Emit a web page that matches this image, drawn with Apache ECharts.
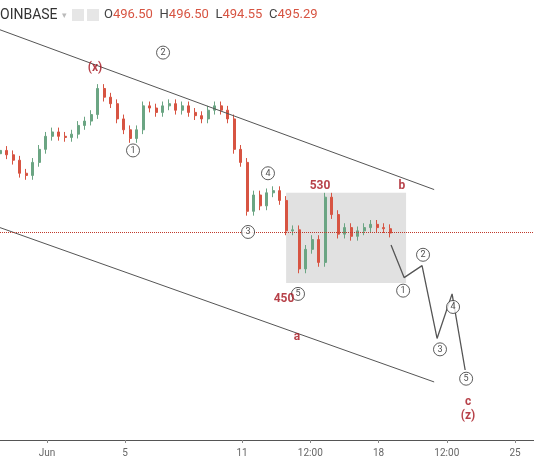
<!DOCTYPE html>
<html><head><meta charset="utf-8">
<script src="https://cdn.jsdelivr.net/npm/echarts@6/dist/echarts.min.js"></script>
<style>html,body{margin:0;padding:0;background:#fff}#c{width:534px;height:462px}</style>
</head><body><div id="c"></div>
<script>
// 8h candles, closes
const startDay = -1.41
const step = 1 / 3
const closes = [571, 567, 562, 550, 548, 560, 572, 584, 588, 584, 583, 586, 594, 598, 604, 628, 620, 614, 600, 590,
  582, 590, 612, 610, 606, 612, 614, 608, 612, 606, 603, 600, 608, 612, 608, 600, 572, 560, 515, 530,
  520, 532, 534, 525, 497, 498, 462, 480, 489, 468, 528, 512, 494, 500, 492, 497, 500, 503, 500, 499, 495]
const firstOpen = 568
const wick = 4

const upperTrend = [[-1.41, 682], [20.85, 535]]
const lowerTrend = [[-1.41, 500], [20.85, 358]]
const boxB = [[13.26, 532], [19.41, 449]]
const projection = [[18.64, 484], [19.31, 454], [20.23, 465], [21.0, 398], [21.77, 439], [22.44, 369]]
const waveCircles = [['1', 5.41, 571], ['2', 6.95, 661], ['3', 11.31, 496], ['4', 12.33, 550], ['5', 13.87, 439],
  ['1', 19.26, 442], ['2', 20.28, 475], ['3', 21.15, 388], ['4', 21.82, 427], ['5', 22.49, 361]]
const redLabels = [['(x)', 3.46, 647], ['530', 15.0, 538], ['b', 19.2, 538], ['450', 13.15, 434], ['a', 13.82, 399],
  ['c', 22.59, 340], ['(z)', 22.59, 327]]
const lastPrice = 495.29
const tickDays = [1, 5, 11, 14.5, 18, 21.5, 25]
const tickLabels = ['Jun', '5', '11', '12:00', '18', '12:00', '25']

const candles = closes.map((c, i) => {
  const o = i === 0 ? firstOpen : closes[i - 1]
  return [startDay + i * step, o, c, Math.min(o, c) - wick, Math.max(o, c) + wick]
})

const chart = echarts.init(document.getElementById('c'))
const red = '#a5121b'
chart.setOption({
  animation: false,
  grid: { left: 0, right: 0, top: 0, bottom: 22 },
  xAxis: {
    type: 'value', min: -1.41, max: 25.97,
    splitLine: { show: false },
    axisLine: { lineStyle: { color: '#555' } },
    axisTick: { customValues: tickDays, lineStyle: { color: '#888' }, length: 3 },
    axisLabel: {
      customValues: tickDays, color: '#666', fontSize: 10, fontFamily: 'Roboto',
      formatter: v => tickLabels[tickDays.indexOf(v)]
    }
  },
  yAxis: { type: 'value', min: 304.6, max: 709.4, show: false, splitLine: { show: false } },
  series: [
    {
      type: 'candlestick', data: candles, encode: { x: 0, y: [1, 2, 3, 4] }, barWidth: 2.5,
      itemStyle: { color: '#6ba583', color0: '#d75442', borderColor: '#6ba583', borderColor0: '#d75442' },
      markArea: { silent: true, itemStyle: { color: 'rgba(200,200,200,0.55)' },
        data: [[{ coord: boxB[0] }, { coord: boxB[1] }]] },
      markLine: { silent: true, symbol: 'none', label: { show: false },
        lineStyle: { color: '#c0392b', type: 'dotted', width: 1 }, data: [{ yAxis: lastPrice }] }
    },
    { type: 'line', data: upperTrend, symbol: 'none', lineStyle: { color: '#555', width: 1 } },
    { type: 'line', data: lowerTrend, symbol: 'none', lineStyle: { color: '#555', width: 1 } },
    { type: 'line', data: projection, symbol: 'none', lineStyle: { color: '#555', width: 1.3 } },
    {
      type: 'scatter', data: waveCircles.map(w => ({ value: [w[1], w[2]], name: w[0] })),
      symbol: 'circle', symbolSize: 13, z: 5,
      itemStyle: { color: '#fff', borderColor: '#333', borderWidth: 1 },
      label: { show: true, position: 'inside', formatter: p => p.name, color: '#222', fontSize: 9, fontFamily: 'Roboto' }
    },
    {
      type: 'scatter', data: redLabels.map(w => ({ value: [w[1], w[2]], name: w[0] })),
      symbolSize: 0, z: 6,
      label: { show: true, position: 'inside', formatter: p => p.name, color: red, fontSize: 12,
        fontWeight: 'bold', fontFamily: 'Roboto' }
    }
  ],
  graphic: [
    { type: 'text', left: 0, top: 8, style: { text: 'OINBASE', fill: '#333', font: '14px Roboto' } },
    { type: 'text', left: 62, top: 11, style: { text: '▾', fill: '#bbb', font: '9px Roboto' } },
    { type: 'rect', left: 72, top: 9, shape: { width: 12, height: 12 }, style: { fill: '#e6e6e6' } },
    { type: 'rect', left: 87, top: 9, shape: { width: 12, height: 12 }, style: { fill: '#e6e6e6' } },
    { type: 'text', left: 104, top: 8, style: {
      rich: { k: { fill: '#444', font: '13px Roboto' }, v: { fill: '#d75442', font: '13px Roboto' } },
      text: '{k|O}{v|496.50}  {k|H}{v|496.50}  {k|L}{v|494.55}  {k|C}{v|495.29}' } }
  ]
})
</script></body></html>
